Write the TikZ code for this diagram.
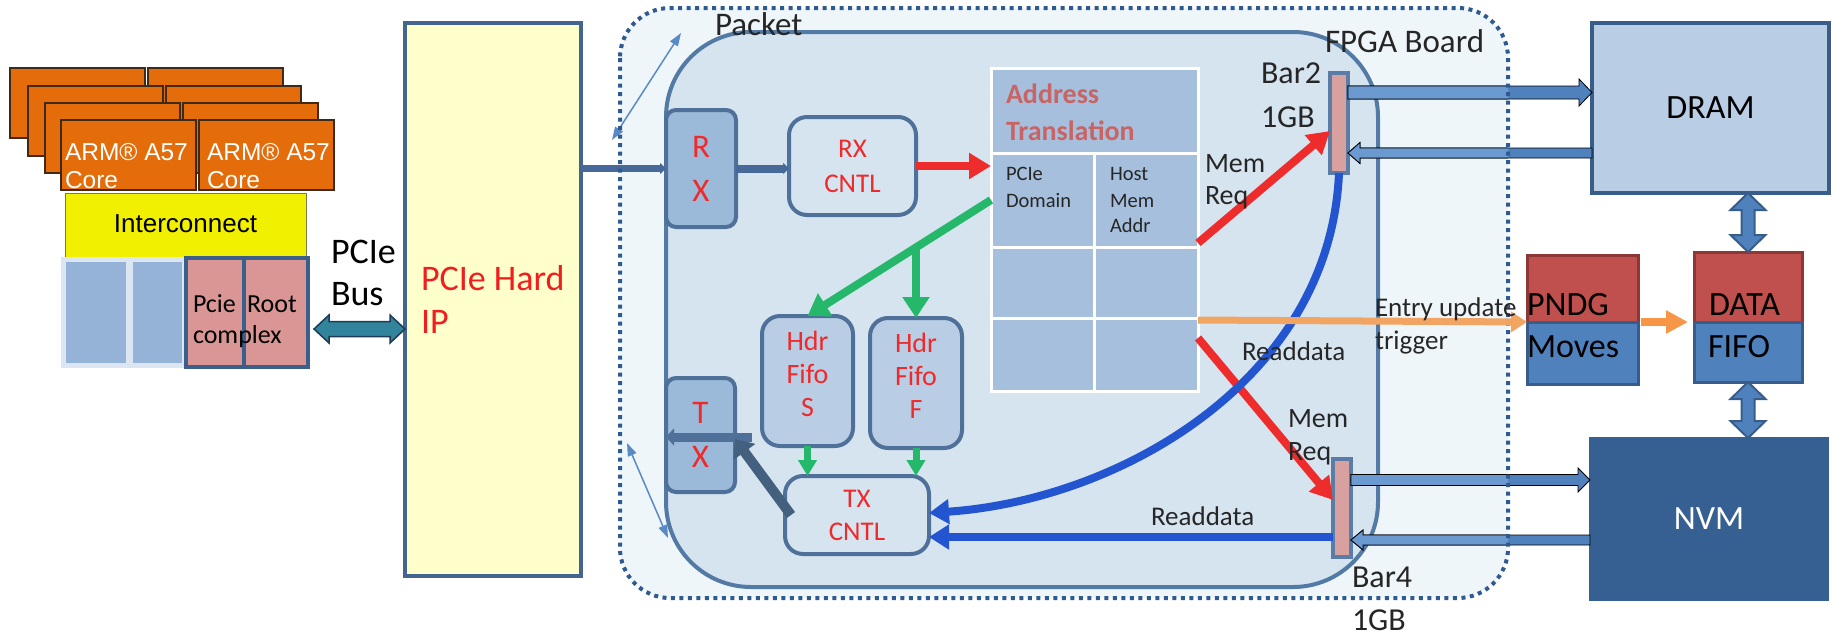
\documentclass[tikz,border=0pt]{standalone}
\usepackage{fontspec}
\setmainfont{Carlito}
\newfontfamily\arialfont{Liberation Sans}
\usetikzlibrary{arrows.meta,calc}

\definecolor{coreorange}{HTML}{E46C0A}
\definecolor{coreline}{HTML}{3F2A18}
\definecolor{icnyellow}{HTML}{F0F000}
\definecolor{icnline}{HTML}{7A7A50}
\definecolor{slotframe}{HTML}{DCE6F2}
\definecolor{slotblue}{HTML}{95B3D7}
\definecolor{rootpink}{HTML}{D99694}
\definecolor{rootline}{HTML}{3B5E8A}
\definecolor{busteal}{HTML}{31849B}
\definecolor{busline}{HTML}{1E3A56}
\definecolor{ipfill}{HTML}{FFFFCC}
\definecolor{ipline}{HTML}{44658F}
\definecolor{ipred}{HTML}{F01E1E}
\definecolor{boardfill}{HTML}{EFF6FA}
\definecolor{boarddot}{HTML}{2F5A8F}
\definecolor{pktfill}{HTML}{D6E4F0}
\definecolor{pktline}{HTML}{527AA5}
\definecolor{unitline}{HTML}{4E7099}
\definecolor{portfill}{HTML}{9BBAD9}
\definecolor{fifofill}{HTML}{B9CDE5}
\definecolor{unitred}{HTML}{EE2A2A}
\definecolor{cellfill}{HTML}{A5BFDD}
\definecolor{hdrrose}{HTML}{C86464}
\definecolor{labelgray}{HTML}{262626}
\definecolor{barpink}{HTML}{D9A0A0}
\definecolor{barline}{HTML}{5A7CA5}
\definecolor{reqred}{HTML}{EE2C2C}
\definecolor{fifogreen}{HTML}{25B86A}
\definecolor{readblue}{HTML}{2355D0}
\definecolor{txslate}{HTML}{44607F}
\definecolor{linkblue}{HTML}{46699A}
\definecolor{thinblue}{HTML}{5A8AC6}
\definecolor{trigorange}{HTML}{F2A463}
\definecolor{moveorange}{HTML}{F79646}
\definecolor{memfill}{HTML}{B9CDE5}
\definecolor{memline}{HTML}{385D8A}
\definecolor{nvmfill}{HTML}{366092}
\definecolor{pndgred}{HTML}{C0504D}
\definecolor{pndgline}{HTML}{8C3836}
\definecolor{movesblue}{HTML}{4F81BD}
\definecolor{widedark}{HTML}{4F81BD}
\definecolor{widelight}{HTML}{6A9AD0}

\newcommand\fs[1]{\fontsize{#1}{#1}\selectfont}
\newcommand\fsl[2]{\fontsize{#1}{#2}\selectfont}

% block arrow with one head: tail, tip, shaft half width, head half width, head length, options
\newcommand\fatarrow[6]{%
  \path[#6] let \p1=(#1), \p2=(#2), \n1={veclen(\x2-\x1,\y2-\y1)},
      \n2={(\x2-\x1)/\n1}, \n3={(\y2-\y1)/\n1} in
    ({\x1-(\n3)*#3},{\y1+(\n2)*#3})
    -- ({\x2-(\n2)*#5-(\n3)*#3},{\y2-(\n3)*#5+(\n2)*#3})
    -- ({\x2-(\n2)*#5-(\n3)*#4},{\y2-(\n3)*#5+(\n2)*#4})
    -- (\x2,\y2)
    -- ({\x2-(\n2)*#5+(\n3)*#4},{\y2-(\n3)*#5-(\n2)*#4})
    -- ({\x2-(\n2)*#5+(\n3)*#3},{\y2-(\n3)*#5-(\n2)*#3})
    -- ({\x1+(\n3)*#3},{\y1-(\n2)*#3}) -- cycle;}

% block arrow with a head at both ends
\newcommand\fatdarrow[6]{%
  \path[#6] let \p1=(#1), \p2=(#2), \n1={veclen(\x2-\x1,\y2-\y1)},
      \n2={(\x2-\x1)/\n1}, \n3={(\y2-\y1)/\n1} in
    (\x1,\y1)
    -- ({\x1+(\n2)*#5-(\n3)*#4},{\y1+(\n3)*#5+(\n2)*#4})
    -- ({\x1+(\n2)*#5-(\n3)*#3},{\y1+(\n3)*#5+(\n2)*#3})
    -- ({\x2-(\n2)*#5-(\n3)*#3},{\y2-(\n3)*#5+(\n2)*#3})
    -- ({\x2-(\n2)*#5-(\n3)*#4},{\y2-(\n3)*#5+(\n2)*#4})
    -- (\x2,\y2)
    -- ({\x2-(\n2)*#5+(\n3)*#4},{\y2-(\n3)*#5-(\n2)*#4})
    -- ({\x2-(\n2)*#5+(\n3)*#3},{\y2-(\n3)*#5-(\n2)*#3})
    -- ({\x1+(\n2)*#5+(\n3)*#3},{\y1+(\n3)*#5-(\n2)*#3})
    -- ({\x1+(\n2)*#5+(\n3)*#4},{\y1+(\n3)*#5-(\n2)*#4}) -- cycle;}

% the four memory links between the BARs and DRAM / NVM
\newcommand\memlinks[1]{%
  \fatarrow{w1a}{dram.west |- w1a}{6.5pt}{13.5pt}{13pt}{fill=#1, draw=black, line width=0.8pt}
  \fatarrow{dram.west |- w2a}{w2a}{5pt}{10.5pt}{12pt}{fill=#1, draw=black, line width=0.8pt}
  \fatarrow{w3a}{nvm.west |- w3a}{5.5pt}{12pt}{12pt}{fill=#1, draw=black, line width=0.8pt}
  \fatarrow{nvm.west |- w4a}{w4a}{5pt}{10pt}{12pt}{fill=#1, draw=black, line width=0.8pt}}

\begin{document}
\begin{tikzpicture}[x=1pt,y=-1pt,
  every node/.style={inner sep=0pt, outer sep=0pt},
  core/.style={draw=coreline, fill=coreorange, line width=1.2pt, minimum width=135pt, minimum height=70pt},
  coretxt/.style={anchor=base west, text=white, font=\arialfont\fs{24.5}},
  unit/.style={draw=unitline, line width=4pt, rounded corners=18pt, text=unitred, align=center},
  cell/.style={fill=cellfill, draw=white, line width=3pt},
  bar/.style={fill=barpink, draw=barline, line width=4pt, minimum width=18pt},
  lbl/.style={anchor=base west, text=labelgray},
  link/.style={draw=linkblue, line width=7pt, -{Triangle[length=6pt,width=11pt]}},
  reqarrow/.style={draw=reqred, line width=8pt, -{Triangle[length=22pt,width=25pt]}},
  greenarrow/.style={draw=fifogreen, line width=8pt, -{Triangle[length=21pt,width=26pt]}},
  greenshort/.style={draw=fifogreen, line width=7pt, -{Triangle[length=16pt,width=18pt]}},
  readarrow/.style={draw=readblue, line width=8pt, -{Triangle[length=20pt,width=24pt]}},
  thinlink/.style={draw=thinblue, line width=1.5pt, {Triangle[length=13pt,width=9pt]}-{Triangle[length=13pt,width=9pt]}},
  ]
\useasboundingbox (0,0) rectangle (1831,635);

% ---------------- host side: cores, interconnect, root complex
\foreach \k/\dx/\dy in {0/10/68,1/28/86,2/45/103,3/61/120}{
  \node[core] (coreA\k) at (\dx+67.5,\dy+35) {};
  \node[core] (coreB\k) at (\dx+205.5,\dy+35) {};
}
\node[coretxt] (armA) at (65,160) {ARM® A57};
\node[coretxt] (coreAt) at (65,188) {Core};
\node[coretxt] (armB) at (207,160) {ARM® A57};
\node[coretxt] (coreBt) at (207,188) {Core};

\node[draw=icnline, fill=icnyellow, line width=0.8pt, minimum width=241pt, minimum height=64pt,
      font=\arialfont\fs{26}] (icn) at (185.5,225) {\raisebox{3pt}{Interconnect}};

\node[fill=slotframe, minimum width=247pt, minimum height=111pt] (sysio) at (184.5,312.5) {};
\node[fill=slotblue, minimum width=60pt, minimum height=101pt] (slotA) at (96,312.5) {};
\node[fill=slotblue, minimum width=49pt, minimum height=101pt] (slotB) at (157.5,312.5) {};
\node[fill=rootpink, draw=rootline, line width=4pt, minimum width=58pt, minimum height=109pt] (rootL) at (215,312.5) {};
\node[fill=rootpink, draw=rootline, line width=4pt, minimum width=64pt, minimum height=109pt] (rootR) at (276,312.5) {};
\node[anchor=base west, font=\fs{26}] (rcA) at (193,312) {Pcie};
\node[anchor=base west, font=\fs{26}] (rcB) at (247,312) {Root};
\node[anchor=base west, font=\fs{26}] (rcC) at (193,343) {complex};

\node[anchor=base west, font=\fs{36}] (busA) at (331,263) {PCIe};
\node[anchor=base west, font=\fs{36}] (busB) at (331,305) {Bus};

% ---------------- PCIe hard IP
\node[fill=ipfill, draw=ipline, line width=4pt, minimum width=176pt, minimum height=553pt] (hardip) at (493,299.5) {};
\node[anchor=base west, text=ipred, font=\fs{36}] (hipA) at (421,290) {PCIe Hard};
\node[anchor=base west, text=ipred, font=\fs{36}] (hipB) at (421,333) {IP};

\fatdarrow{[xshift=6pt,yshift=-16.5pt]rootR.east}{[yshift=-29.5pt]hardip.west}{7.5pt}{14pt}{15pt}{fill=busteal, draw=busline, line width=1.5pt}

% ---------------- FPGA board and packet engine
\node[fill=boardfill, rounded corners=50pt, minimum width=888pt, minimum height=590pt] (fpga) at (1064,303) {};
\node[fill=pktfill, draw=pktline, line width=4pt, rounded corners=85pt, minimum width=712pt, minimum height=555pt] (pkt) at (1022,309.5) {};

\node[unit, fill=portfill, rounded corners=10pt, minimum width=70pt, minimum height=117pt, font=\fsl{33}{44}] (rx) at (701,168.5) {R\\X};
\node[unit, fill=portfill, rounded corners=10pt, minimum width=69pt, minimum height=114pt, font=\fsl{33}{44}] (tx) at (700.5,435) {T\\X};

\draw[link] (rx.west -| hardip.east) -- (rx.west);

\node[unit, fill=pktfill, minimum width=127pt, minimum height=98pt, font=\fsl{27}{35}] (rxc) at (852.5,166) {RX\\CNTL};
\node[unit, fill=pktfill, minimum width=144pt, minimum height=78pt, font=\fsl{27}{33}] (txc) at (857,515) {TX\\CNTL};
\node[unit, fill=fifofill, minimum width=91pt, minimum height=130pt] (hdrS) at (807.5,381) {};
\node[unit, fill=fifofill, minimum width=92pt, minimum height=130pt] (hdrF) at (916,383) {};
\node[text=unitred, align=center, font=\fsl{28}{33}] (hdrSt) at (807.5,374) {Hdr\\Fifo\\S};
\node[text=unitred, align=center, font=\fsl{28}{33}] (hdrFt) at (916,376) {Hdr\\Fifo\\F};

\draw[link, line width=8pt] (rx.east) -- (rx.east -| rxc.west);

% address translation table
\node[cell, minimum width=207pt, minimum height=85pt] (athdr) at (1094.5,110.5) {};
\node[cell, minimum width=103pt, minimum height=94pt] (c11) at (1042.5,200) {};
\node[cell, minimum width=104pt, minimum height=94pt] (c12) at (1146,200) {};
\node[cell, minimum width=103pt, minimum height=71pt] (c21) at (1042.5,282.5) {};
\node[cell, minimum width=104pt, minimum height=71pt] (c22) at (1146,282.5) {};
\node[cell, minimum width=103pt, minimum height=73pt] (c31) at (1042.5,354.5) {};
\node[cell, minimum width=104pt, minimum height=73pt] (c32) at (1146,354.5) {};
\node[anchor=base west, text=hdrrose, font=\bfseries\fs{28}] (atA) at (1006,103) {Address};
\node[anchor=base west, text=hdrrose, font=\bfseries\fs{28}] (atB) at (1006,140) {Translation};
\node[lbl, font=\fs{20.5}] (pdA) at (1006,180) {PCIe};
\node[lbl, font=\fs{20.5}] (pdB) at (1006,207) {Domain};
\node[lbl, font=\fs{20.5}] (hmA) at (1110,180) {Host};
\node[lbl, font=\fs{20.5}] (hmB) at (1110,207) {Mem};
\node[lbl, font=\fs{20.5}] (hmC) at (1110,232) {Addr};

% BAR windows
\node[bar, minimum height=100pt] (bar2) at (1339,123) {};
\node[bar, minimum height=98pt] (bar4) at (1342,508) {};

% ---------------- flows inside the packet engine
\draw[reqarrow] (rxc.east) -- (rxc.east -| c11.west);
\coordinate (gb) at ($(c11.west)!0.41!(hdrS.north)$);
\draw[greenarrow] (c11.west) -- (hdrS.north);
\draw[greenarrow] (gb) -- (gb -| hdrF.north) -- (hdrF.north);
\draw[greenshort] (hdrS.south) -- (hdrS.south |- txc.north);
\draw[greenshort] (hdrF.south) -- (hdrF.south |- txc.north);

\draw[reqarrow] ([yshift=4pt]c12.south east) -- ([yshift=-8pt]bar2.west);
\draw[reqarrow] ([yshift=-20pt]c32.north east) -- ([yshift=8pt]bar4.west);

\draw[readarrow] (bar2.south) .. controls (1330,380) and (1120,500) .. ([yshift=2pt]txc.east);
\coordinate (rdsrc) at ([yshift=-29pt]bar4.west);
\draw[readarrow] (rdsrc) -- (txc.east |- rdsrc);

\draw[draw=unitline, line width=9pt, -{Triangle[length=8pt,width=17pt]}] ([xshift=17pt,yshift=-2pt]tx.east) -- ([yshift=-2pt]tx.west);
\draw[draw=txslate, line width=10pt, -{Triangle[length=16pt,width=26pt]}] ([xshift=6pt]txc.west) -- ([yshift=-4pt]tx.east);

\coordinate (ta1) at (612,140);
\coordinate (ta2) at (681,33);
\coordinate (tb1) at (627,443);
\coordinate (tb2) at (668,538);
\draw[thinlink] (ta1) -- (ta2);
\draw[thinlink] (tb1) -- (tb2);

% ---------------- memories
\node[fill=memfill, draw=memline, line width=4pt, minimum width=237pt, minimum height=170pt, font=\fs{34}] (dram) at (1710.5,108) {DRAM};
\node[fill=nvmfill, draw=nvmfill, line width=2pt, minimum width=238pt, minimum height=162pt, text=white, font=\fs{34}] (nvm) at (1709,519) {NVM};

\node[fill=pndgred, draw=pndgline, line width=3pt, minimum width=111pt, minimum height=67pt] (pndg) at (1582.5,288.5) {};
\node[fill=movesblue, draw=memline, line width=3pt, minimum width=111pt, minimum height=62pt] (moves) at (1582.5,353) {};
\node[fill=pndgred, draw=pndgline, line width=3pt, minimum width=108pt, minimum height=70pt] (data) at (1748,287) {};
\node[fill=movesblue, draw=memline, line width=3pt, minimum width=108pt, minimum height=60pt] (fifo) at (1748,352) {};
\node[anchor=base west, font=\fs{34}] (pndgt) at (1527,315) {PNDG};
\node[anchor=base west, font=\fs{34}] (movest) at (1527,357) {Moves};
\node[anchor=base west, font=\fs{34}] (datat) at (1709,315) {DATA};
\node[anchor=base west, font=\fs{34}] (fifot) at (1708,357) {FIFO};

\fatdarrow{dram.south -| data.north}{data.north}{6.5pt}{17.5pt}{17pt}{fill=movesblue, draw=memline, line width=2pt}
\fatdarrow{fifo.south}{nvm.north -| fifo.south}{6.5pt}{17.5pt}{17pt}{fill=movesblue, draw=memline, line width=2pt}

% memory links, lighter where they sit on the board
\coordinate (w1a) at ([yshift=30.5pt]bar2.east);
\coordinate (w2a) at ([yshift=-30pt]bar2.east);
\coordinate (w3a) at ([yshift=28pt]bar4.east);
\coordinate (w4a) at ([yshift=-32pt]bar4.east);
\memlinks{widedark}
\begin{scope}
  \clip (fpga.north west) rectangle (fpga.south east);
  \memlinks{widelight}
\end{scope}

% board outline
\draw[draw=boarddot, line width=4pt, dash pattern=on 4pt off 4.5pt, rounded corners=50pt]
  (fpga.north west) rectangle (fpga.south east);

% entry update trigger
\draw[draw=trigorange, line width=7pt, -{Triangle[length=16pt,width=20pt]}] ([yshift=-2pt]c32.north east) -- (pndg.south west);
\draw[draw=moveorange, line width=8pt, -{Triangle[length=22pt,width=22pt]}] ([xshift=3pt]pndg.south east) -- ([xshift=-6pt]data.south west);

% ---------------- labels
\node[lbl, font=\fs{33}] (pktlbl) at (715,35) {Packet};
\node[lbl, font=\fs{33}] (fpgalbl) at (1325,52) {FPGA Board};
\node[lbl, font=\fs{32}] (b2a) at (1261,83) {Bar2};
\node[lbl, font=\fs{32}] (b2b) at (1261,127) {1GB};
\node[lbl, font=\fs{32}] (b4a) at (1352,587) {Bar4};
\node[lbl, font=\fs{32}] (b4b) at (1352,630) {1GB};
\node[lbl, font=\fs{28}] (mrA) at (1205,172) {Mem};
\node[lbl, font=\fs{28}] (mrB) at (1205,204) {Req};
\node[lbl, font=\fs{28}] (mrC) at (1288,427) {Mem};
\node[lbl, font=\fs{28}] (mrD) at (1288,460) {Req};
\node[lbl, font=\fs{27}] (euA) at (1375,316) {Entry update};
\node[lbl, font=\fs{27}] (euB) at (1375,349) {trigger};
\node[lbl, font=\fs{27}] (rdA) at (1242,360) {Readdata};
\node[lbl, font=\fs{27}] (rdB) at (1151,525) {Readdata};
\end{tikzpicture}
\end{document}
